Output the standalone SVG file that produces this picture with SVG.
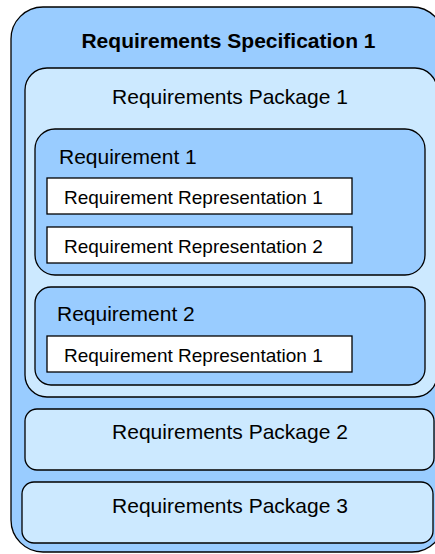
<svg xmlns="http://www.w3.org/2000/svg" width="435" height="554" viewBox="0 0 435 554">
<style>
rect{stroke:#000;stroke-width:1.3}
.dark{fill:#99CCFF}
.light{fill:#CCE9FF}
.rep{fill:#fff}
text{font-family:"Liberation Sans",Arial,sans-serif;fill:#000}
.t16{font-size:21px}
.t14{font-size:19px}
.b{font-weight:bold;font-size:21px}
</style>
<g id="spec">
<rect class="dark" x="11" y="7" width="433" height="545" rx="32"/>
<text class="b" x="228.5" y="48" text-anchor="middle">Requirements Specification 1</text>
</g>
<g id="pkg1">
<rect class="light" x="25" y="68" width="412" height="329" rx="22"/>
<text class="t16" x="230" y="104" text-anchor="middle">Requirements Package 1</text>
</g>
<g id="req1">
<rect class="dark" x="35" y="129" width="390" height="146" rx="20"/>
<text class="t16" x="59" y="164">Requirement 1</text>
</g>
<g id="rep11">
<rect class="rep" x="47" y="178" width="305" height="36"/>
<text class="t14" x="64" y="204">Requirement Representation 1</text>
</g>
<g id="rep12">
<rect class="rep" x="47" y="227" width="305" height="36"/>
<text class="t14" x="64" y="252.5">Requirement Representation 2</text>
</g>
<g id="req2">
<rect class="dark" x="35" y="287" width="390" height="98" rx="16"/>
<text class="t16" x="57" y="321">Requirement 2</text>
</g>
<g id="rep21">
<rect class="rep" x="47" y="336" width="305" height="36"/>
<text class="t14" x="64" y="361.5">Requirement Representation 1</text>
</g>
<g id="pkg2">
<rect class="light" x="25" y="409" width="409" height="61" rx="12"/>
<text class="t16" x="230" y="439" text-anchor="middle">Requirements Package 2</text>
</g>
<g id="pkg3">
<rect class="light" x="22" y="482" width="411" height="61" rx="12"/>
<text class="t16" x="230" y="512.5" text-anchor="middle">Requirements Package 3</text>
</g>
<g id="connectors"/>
</svg>
